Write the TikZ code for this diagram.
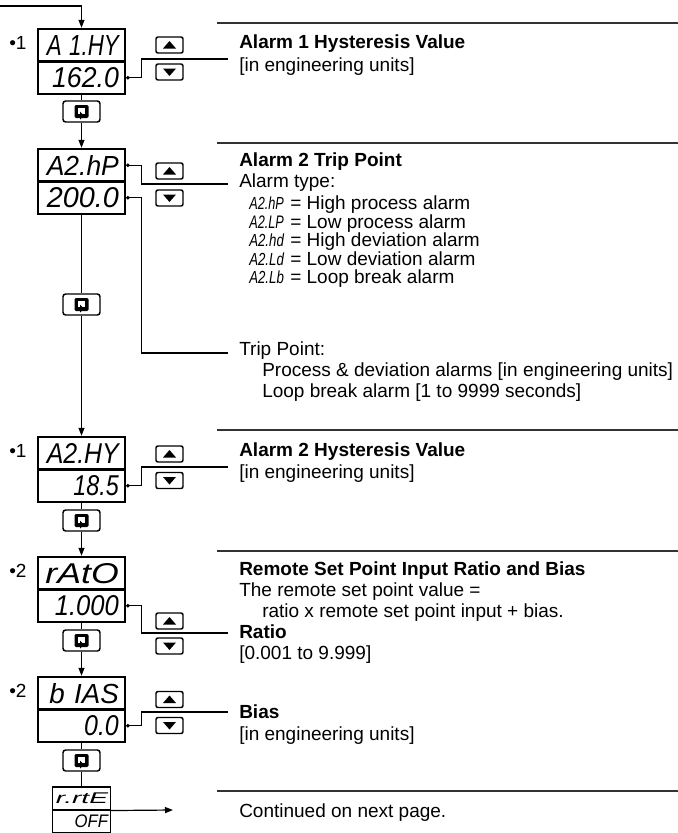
\documentclass[tikz,border=0pt]{standalone}
\usepackage{fontspec}
\setmainfont{Liberation Sans}
\usepackage{graphicx}
\usetikzlibrary{arrows.meta}
\definecolor{rulegray}{HTML}{333333}
% seven segment readouts, squeezed to the display cell
\newcommand{\seg}[2]{\resizebox{#1}{15pt}{\itshape #2}}
\newcommand{\sseg}[1]{\resizebox{26pt}{9.5pt}{\itshape #1}}

\begin{document}
\begin{tikzpicture}[x=0.75pt, y=-0.75pt,
    dispcell/.style={draw, line width=1.8pt, minimum width=65.25pt, minimum height=24.4pt,
                     inner sep=0pt, text width=56pt, align=right},
    endcell/.style={draw, line width=0.8pt, minimum width=43.5pt, minimum height=17.25pt,
                    inner sep=0pt, text width=39.75pt, align=right},
    retkey/.style={draw, line width=1.1pt, rounded corners=2pt, minimum width=27.75pt,
                   minimum height=15.75pt, inner sep=0pt},
    arrkey/.style={draw, line width=1.1pt, rounded corners=1.5pt, minimum width=20.25pt,
                   minimum height=12pt, inner sep=0pt},
    flow/.style={line width=0.9pt, -{Triangle[length=6pt,width=4.5pt]}},
    lead/.style={line width=0.9pt, {Circle[length=2.6pt]}-},
    rule/.style={line width=0.9pt, rulegray},
    txt/.style={anchor=base west, inner sep=0pt, font=\fontsize{14.25pt}{16pt}\selectfont}]
  \clip (0,0) rectangle (678,833);

  % displays
  \foreach \n/\yt/\ta/\wa/\tb/\wb/\sb in {
      1/29/{A 1.HY}/54pt/{162.0}/50pt/0pt,
      2/149/{A2.hP}/54pt/{200.0}/54pt/0pt,
      3/437/{A2.HY}/54pt/{18.5}/34pt/0pt,
      4/557/{rAtO}/55pt/{1.000}/48pt/0pt,
      5/677/{b IAS}/52pt/{0.0}/26pt/15pt}{
    \node[dispcell] (d\n-top) at (81.5,\yt+16.25) {\seg{\wa}{\ta}};
    \node[dispcell] (d\n-bot) at (81.5,\yt+48.75) {\seg{\wb}{\tb}\hspace*{\sb}};
  }
  \node[endcell] (d6-top) at (81.5,798.5) {\resizebox{39pt}{8pt}{\itshape r.rtE}};
  \node[endcell] (d6-bot) at (81.5,821.5) {\resizebox{25pt}{9.5pt}{\itshape OFF}\hspace*{4.5pt}};

  \foreach \yt/\m in {29/1,437/1,557/2,677/2}
    \node[txt] (note\yt) at (9,\yt+20) {•\m};

  % return keys
  \foreach \n/\y in {1/111.5,2/304.5,3/520.5,4/640.5,5/760.5}{
    \node[retkey] (k\n) at (81.5,\y) {};
    \begin{scope}[shift={(k\n.center)}]
      \fill[rounded corners=1pt] (-7,-6.5) rectangle (7,6.5);
      \fill[white] (-3.5,-3.5) rectangle (3.5,2.5);
      \fill (-1.5,0) -- (2.5,4) -- (-1.5,8) -- cycle;
    \end{scope}
  }

  % up / down keys
  \foreach \n/\yu/\yd in {1/45/72,2/171/198,3/454/480.5,4/621/646,5/699.5/725.5}{
    \node[arrkey] (u\n) at (169.5,\yu) {};
    \node[arrkey] (v\n) at (169.5,\yd) {};
    \fill ([shift={(-6.5,3.5)}]u\n.center) -- ++(13,0) -- ++(-6.5,-7.5) -- cycle;
    \fill ([shift={(-6.5,-3.5)}]v\n.center) -- ++(13,0) -- ++(-6.5,7.5) -- cycle;
  }

  % flow down the menu
  \coordinate (feed) at (0,6);
  \draw[flow] (feed) -| (d1-top.north);
  \foreach \n/\m in {1/2,2/3,3/4,4/5}{
    \draw[line width=0.9pt] (d\n-bot.south) -- (k\n.north);
    \draw[flow] (k\n.south) -- (d\m-top.north);
  }
  \draw[line width=0.9pt] (d5-bot.south) -- (k5.north) (k5.south) -- (d6-top.north);
  \coordinate (cont) at (173,810);
  \draw[flow] (d6-top.south east) -- (cont);

  % leads to the descriptions
  \foreach \s/\i/\y in {d1-bot/1/59, d2-top/2/184, d2-bot/3/353,
                        d3-bot/4/467, d4-bot/5/633, d5-bot/6/712}{
    \coordinate (e\i) at (228,\y);
    \draw[lead] (\s.east) -- ++(15,0) |- (e\i);
  }

  \foreach \y in {23,143,430,551,791}
    \draw[rule] (217,\y) -- (678,\y);

  % descriptions
  \foreach \x/\y/\s [count=\i] in {
      239/48.5/{\textbf{Alarm 1 Hysteresis Value}},
      239/71/{[in engineering units]},
      239/166.5/{\textbf{Alarm 2 Trip Point}},
      239/187.5/{Alarm type:},
      249/209.5/{\makebox[30.75pt][l]{\sseg{A2.hP}}= High process alarm},
      249/228/{\makebox[30.75pt][l]{\sseg{A2.LP}}= Low process alarm},
      249/246.5/{\makebox[30.75pt][l]{\sseg{A2.hd}}= High deviation alarm},
      249/265/{\makebox[30.75pt][l]{\sseg{A2.Ld}}= Low deviation alarm},
      249/283.5/{\makebox[30.75pt][l]{\sseg{A2.Lb}}= Loop break alarm},
      239/355.5/{Trip Point:},
      262/376.5/{Process \& deviation alarms [in engineering units]},
      262/397.5/{Loop break alarm [1 to 9999 seconds]},
      239/456.5/{\textbf{Alarm 2 Hysteresis Value}},
      239/478/{[in engineering units]},
      239/575.5/{\textbf{Remote Set Point Input Ratio and Bias}},
      239/596.5/{The remote set point value =},
      262/617.5/{ratio x remote set point input + bias.},
      239/638.5/{\textbf{Ratio}},
      239/659.5/{[0.001 to 9.999]},
      239/718.5/{\textbf{Bias}},
      239/740/{[in engineering units]},
      239/817/{Continued on next page.}}
    \node[txt] (line\i) at (\x,\y) {\s};
\end{tikzpicture}
\end{document}
